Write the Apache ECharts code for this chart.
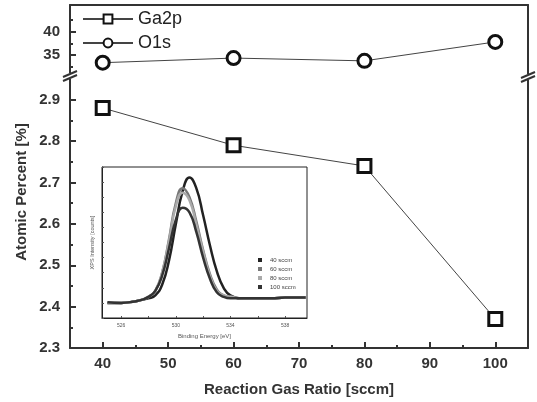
<!DOCTYPE html>
<html>
<head>
<meta charset="utf-8">
<script src="https://cdn.jsdelivr.net/npm/echarts@6/dist/echarts.min.js"></script>
<style>
html, body { margin: 0; padding: 0; background: #fff; }
#chart { width: 537px; height: 402px; }
</style>
</head>
<body>
<div id="chart"></div>
<script>
// main plot
var gasRatio = [40, 60, 80, 100];
var o1s = [33.3, 34.3, 33.7, 37.8];
var ga2p = [2.88, 2.79, 2.74, 2.37];

var xLabels = [40, 50, 60, 70, 80, 90, 100];
var xMinor = [45, 55, 65, 75, 85, 95];
var yLowLabels = [2.3, 2.4, 2.5, 2.6, 2.7, 2.8, 2.9];
var yLowMinor = [2.35, 2.45, 2.55, 2.65, 2.75, 2.85];
var yHighLabels = [35, 40];
var yHighMinor = [32.5, 37.5, 42.5];

// inset: XPS O1s spectra
var energy = [525, 526, 527, 527.5, 528, 528.5, 529, 529.5, 530, 530.5, 531, 531.5, 532, 532.5, 533, 533.5, 534, 535, 536, 537, 538, 539.5];
var spec40 = [10, 10, 11, 12, 13, 15, 22, 38, 62, 84, 93, 86, 68, 48, 31, 20, 15, 13, 13, 13, 13.5, 13.5];
var spec60 = [10, 10, 11, 12, 14, 18, 30, 52, 76, 86, 80, 64, 45, 29, 19, 15, 14, 13, 13, 13, 13.5, 13.5];
var spec80 = [10, 10, 11, 12, 14, 18, 30, 51, 74, 83, 78, 62, 44, 28, 18, 15, 14, 13, 13, 13, 13.5, 13.5];
var spec100 = [10.5, 10, 11, 12, 14, 18, 28, 46, 65, 73, 70, 57, 40, 26, 17, 14, 13, 13, 13, 13, 13.5, 13.5];
var insetLabels = [526, 530, 534, 538];
var insetTicks = [526, 528, 530, 532, 534, 536, 538];

function pairs(xs, ys) {
    return xs.map(function(x, i) { return [x, ys[i]]; });
}

var font = "'Liberation Sans', Arial, sans-serif";
var lineColor = '#333';

var myChart = echarts.init(document.getElementById('chart'));

var hidden = { show: false };
function lineOnly(extra) {
    var a = {
        type: 'value',
        axisLine: { show: true, lineStyle: { color: lineColor, width: 2 } },
        axisTick: hidden,
        axisLabel: hidden,
        splitLine: hidden
    };
    return Object.assign(a, extra);
}

var markerStyle = { color: '#fff', borderColor: '#111', borderWidth: 3 };

var option = {
    backgroundColor: '#fff',
    animation: false,
    textStyle: { fontFamily: font },
    grid: [
        { left: 70, right: 9, top: 5, height: 72 },
        { left: 70, right: 9, top: 77, bottom: 53 },
        { left: 102, top: 167, width: 205, height: 151, show: true, backgroundColor: '#fff',
          borderColor: '#222', borderWidth: 1, z: 5 }
    ],
    legend: [
        {
            data: ['Ga2p', 'O1s'],
            orient: 'vertical',
            left: 82,
            top: 10,
            padding: 0,
            itemWidth: 50,
            itemHeight: 11,
            itemGap: 6,
            textStyle: { fontSize: 18, color: '#222', fontFamily: font }
        },
        {
            data: ['40 sccm', '60 sccm', '80 sccm', '100 sccm'],
            orient: 'vertical',
            left: 258,
            top: 257,
            padding: 0,
            icon: 'rect',
            itemWidth: 4,
            itemHeight: 4,
            itemGap: 3,
            z: 10,
            textStyle: { fontSize: 6, color: '#444', fontFamily: font, padding: [0, 0, 0, 3] }
        }
    ],
    xAxis: [
        lineOnly({ gridIndex: 0, position: 'top', min: 35, max: 105 }),
        {
            type: 'value', gridIndex: 1, position: 'bottom', min: 35, max: 105,
            axisLine: { show: true, lineStyle: { color: lineColor, width: 2 } },
            axisTick: { show: true, inside: true, length: 6, customValues: xLabels, lineStyle: { color: lineColor, width: 2 } },
            axisLabel: { customValues: xLabels, margin: 8, fontSize: 15, fontWeight: 'bold', color: '#333', fontFamily: font },
            splitLine: hidden,
            name: 'Reaction Gas Ratio [sccm]',
            nameLocation: 'middle',
            nameGap: 34,
            nameTextStyle: { fontSize: 15, fontWeight: 'bold', color: '#333', fontFamily: font }
        },
        {
            type: 'value', gridIndex: 1, position: 'bottom', min: 35, max: 105,
            axisLine: hidden,
            axisTick: { show: true, inside: true, length: 3, customValues: xMinor, lineStyle: { color: lineColor, width: 2 } },
            axisLabel: hidden, splitLine: hidden
        },
        {
            type: 'value', gridIndex: 2, position: 'bottom', min: 524.6, max: 539.6,
            axisLine: { show: true, lineStyle: { color: '#222', width: 1 } },
            axisTick: { show: true, inside: true, length: 2, customValues: insetTicks, lineStyle: { color: '#555' } },
            axisLabel: { customValues: insetLabels, margin: 5, fontSize: 5, color: '#555', fontFamily: font },
            splitLine: hidden,
            name: 'Binding Energy [eV]',
            nameLocation: 'middle',
            nameGap: 15,
            nameTextStyle: { fontSize: 6, color: '#555', fontFamily: font },
            z: 6
        }
    ],
    yAxis: [
        {
            type: 'value', gridIndex: 0, position: 'left', min: 30.2, max: 45.8,
            axisLine: { show: true, lineStyle: { color: lineColor, width: 2 } },
            axisTick: { show: true, inside: true, length: 6, customValues: yHighLabels, lineStyle: { color: lineColor, width: 2 } },
            axisLabel: { customValues: yHighLabels, margin: 10, fontSize: 15, fontWeight: 'bold', color: '#333', fontFamily: font },
            splitLine: hidden
        },
        {
            type: 'value', gridIndex: 0, position: 'left', min: 30.2, max: 45.8,
            axisLine: hidden,
            axisTick: { show: true, inside: true, length: 3, customValues: yHighMinor, lineStyle: { color: lineColor, width: 2 } },
            axisLabel: hidden, splitLine: hidden
        },
        lineOnly({ gridIndex: 0, position: 'right', min: 30.2, max: 45.8 }),
        {
            type: 'value', gridIndex: 1, position: 'left', min: 2.3, max: 2.955,
            axisLine: { show: true, lineStyle: { color: lineColor, width: 2 } },
            axisTick: { show: true, inside: true, length: 6, customValues: yLowLabels, lineStyle: { color: lineColor, width: 2 } },
            axisLabel: {
                customValues: yLowLabels, margin: 10, fontSize: 15, fontWeight: 'bold', color: '#333', fontFamily: font,
                formatter: function(v) { return v.toFixed(1); }
            },
            splitLine: hidden
        },
        {
            type: 'value', gridIndex: 1, position: 'left', min: 2.3, max: 2.955,
            axisLine: hidden,
            axisTick: { show: true, inside: true, length: 3, customValues: yLowMinor, lineStyle: { color: lineColor, width: 2 } },
            axisLabel: hidden, splitLine: hidden
        },
        lineOnly({ gridIndex: 1, position: 'right', min: 2.3, max: 2.955 }),
        {
            type: 'value', gridIndex: 2, position: 'left', min: 0, max: 100, interval: 10,
            axisLine: { show: true, lineStyle: { color: '#222', width: 1 } },
            axisTick: { show: true, inside: true, length: 2, lineStyle: { color: '#555' } },
            axisLabel: hidden,
            splitLine: hidden,
            name: 'XPS Intensity [counts]',
            nameLocation: 'middle',
            nameGap: 7,
            nameTextStyle: { fontSize: 5.5, color: '#555', fontFamily: font },
            z: 6
        }
    ],
    graphic: [
        {
            type: 'text', x: 22, y: 192, rotation: Math.PI / 2,
            style: { text: 'Atomic Percent [%]', font: 'bold 15px ' + font, fill: '#333', textAlign: 'center', textVerticalAlign: 'middle' }
        },
        // axis break marks
        { type: 'rect', shape: { x: 62, y: 73, width: 16, height: 6 }, style: { fill: '#fff' }, z: 20 },
        { type: 'line', shape: { x1: 63, y1: 77, x2: 77, y2: 71 }, style: { stroke: '#333', lineWidth: 2 }, z: 21 },
        { type: 'line', shape: { x1: 63, y1: 81, x2: 77, y2: 75 }, style: { stroke: '#333', lineWidth: 2 }, z: 21 },
        { type: 'rect', shape: { x: 520, y: 74, width: 16, height: 6 }, style: { fill: '#fff' }, z: 20 },
        { type: 'line', shape: { x1: 521, y1: 78, x2: 535, y2: 72 }, style: { stroke: '#333', lineWidth: 2 }, z: 21 },
        { type: 'line', shape: { x1: 521, y1: 82, x2: 535, y2: 76 }, style: { stroke: '#333', lineWidth: 2 }, z: 21 }
    ],
    series: [
        {
            name: 'Ga2p', type: 'line', xAxisIndex: 1, yAxisIndex: 3,
            data: pairs(gasRatio, ga2p),
            symbol: 'rect', symbolSize: 13,
            lineStyle: { color: '#444', width: 1 },
            itemStyle: markerStyle
        },
        {
            name: 'O1s', type: 'line', xAxisIndex: 0, yAxisIndex: 0,
            data: pairs(gasRatio, o1s),
            symbol: 'circle', symbolSize: 13,
            lineStyle: { color: '#444', width: 1 },
            itemStyle: markerStyle
        },
        {
            name: '40 sccm', type: 'line', xAxisIndex: 3, yAxisIndex: 6, z: 7,
            data: pairs(energy, spec40), smooth: true, showSymbol: false,
            lineStyle: { color: '#222', width: 2.5 }, itemStyle: { color: '#222' }
        },
        {
            name: '60 sccm', type: 'line', xAxisIndex: 3, yAxisIndex: 6, z: 7,
            data: pairs(energy, spec60), smooth: true, showSymbol: false,
            lineStyle: { color: '#777', width: 2.5 }, itemStyle: { color: '#777' }
        },
        {
            name: '80 sccm', type: 'line', xAxisIndex: 3, yAxisIndex: 6, z: 7,
            data: pairs(energy, spec80), smooth: true, showSymbol: false,
            lineStyle: { color: '#aaa', width: 2.5 }, itemStyle: { color: '#aaa' }
        },
        {
            name: '100 sccm', type: 'line', xAxisIndex: 3, yAxisIndex: 6, z: 7,
            data: pairs(energy, spec100), smooth: true, showSymbol: false,
            lineStyle: { color: '#333', width: 2.5 }, itemStyle: { color: '#333' }
        }
    ]
};

myChart.setOption(option);
</script>
</body>
</html>
